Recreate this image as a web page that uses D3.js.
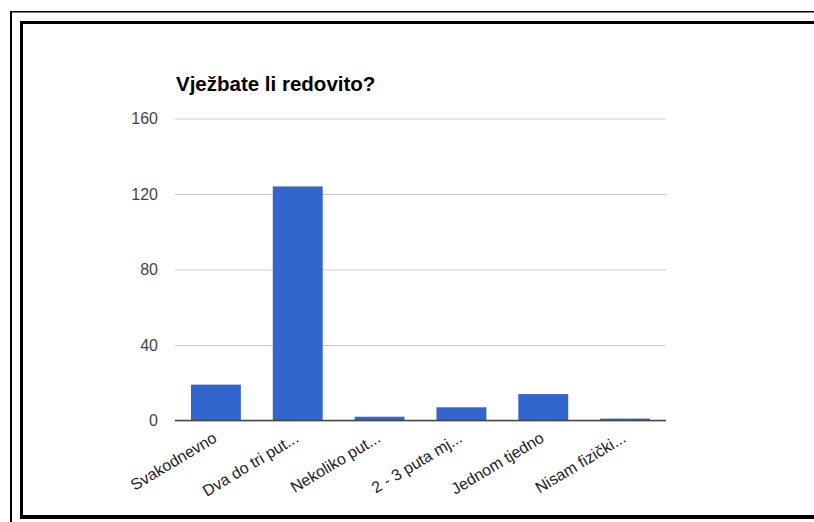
<!DOCTYPE html>
<html>
<head>
<meta charset="utf-8">
<script src="https://cdn.jsdelivr.net/npm/d3@7"></script>
<style>
  body { margin: 0; background: #fff; }
  svg { display: block; font-family: Arial, "Liberation Sans", sans-serif; }
</style>
</head>
<body>
<div class="visHolder"></div>
<script>
// ========================================
// Data
// ========================================
const categories = ['Svakodnevno', 'Dva do tri put...', 'Nekoliko put...', '2 - 3 puta mj...', 'Jednom tjedno', 'Nisam fizički...'];
const counts = [19, 124, 2, 7, 14, 1];
const yTicks = [0, 40, 80, 120, 160];
const title = 'Vježbate li redovito?';

// ========================================
// Dimensions
// ========================================
const
  width = 814,
  height = 522,
  plotLeft = 175,
  plotRight = 666,
  plotTop = 118.5,
  plotBottom = 420.5,
  barColor = '#3366cc';

const svg = d3.select('.visHolder')
  .append('svg')
    .attr('width', width)
    .attr('height', height);

svg.append('rect').attr('width', width).attr('height', height).attr('fill', '#fff');

// ========================================
// Frame (double border)
// ========================================
const frame = svg.append('g').attr('fill', '#000');
frame.append('rect').attr('x', 10).attr('y', 11).attr('width', 2).attr('height', height - 11);
frame.append('rect').attr('x', 10).attr('y', 11).attr('width', width - 10).attr('height', 1.5);
frame.append('rect').attr('x', 20).attr('y', 21).attr('width', 3).attr('height', 498);
frame.append('rect').attr('x', 20).attr('y', 21).attr('width', width - 20).attr('height', 3);
frame.append('rect').attr('x', 20).attr('y', 515).attr('width', width - 20).attr('height', 4);

// ========================================
// Scales
// ========================================
const xScale = d3.scaleBand()
  .domain(categories)
  .range([plotLeft, plotRight])
  .paddingInner(0.39)
  .paddingOuter(0.195);

const yScale = d3.scaleLinear()
  .domain([0, 160])
  .range([plotBottom, plotTop]);

// ========================================
// Title
// ========================================
svg.append('text')
  .attr('x', 176)
  .attr('y', 91)
  .attr('font-size', 20.5)
  .attr('font-weight', 'bold')
  .attr('fill', '#000')
  .text(title);

// ========================================
// Y axis with gridlines
// ========================================
const yAxis = svg.append('g')
  .attr('transform', 'translate(' + plotLeft + ', 0)')
  .call(d3.axisLeft(yScale).tickValues(yTicks).tickSize(-(plotRight - plotLeft)).tickPadding(17));

yAxis.select('.domain').remove();
yAxis.selectAll('line').attr('stroke', '#cccccc');
yAxis.selectAll('text')
  .attr('font-size', 16)
  .attr('fill', '#444')
  .attr('font-family', 'Arial, "Liberation Sans", sans-serif');

// ========================================
// Bars
// ========================================
svg.selectAll('rect.bar')
  .data(counts)
  .enter()
  .append('rect')
    .attr('class', 'bar')
    .attr('x', (d, i) => xScale(categories[i]))
    .attr('y', d => yScale(d))
    .attr('width', xScale.bandwidth())
    .attr('height', d => yScale(0) - yScale(d))
    .attr('fill', barColor);

// baseline
svg.append('line')
  .attr('x1', plotLeft)
  .attr('x2', plotRight)
  .attr('y1', yScale(0))
  .attr('y2', yScale(0))
  .attr('stroke', '#444')
  .attr('stroke-width', 1.5);

// ========================================
// X labels (rotated)
// ========================================
svg.append('g')
  .selectAll('text')
  .data(categories)
  .enter()
  .append('text')
    .attr('transform', d => 'translate(' + (xScale(d) + xScale.bandwidth() / 2 + 2) + ', 441) rotate(-31)')
    .attr('text-anchor', 'end')
    .attr('font-size', 16)
    .attr('fill', '#222')
    .text(d => d);
</script>
</body>
</html>
